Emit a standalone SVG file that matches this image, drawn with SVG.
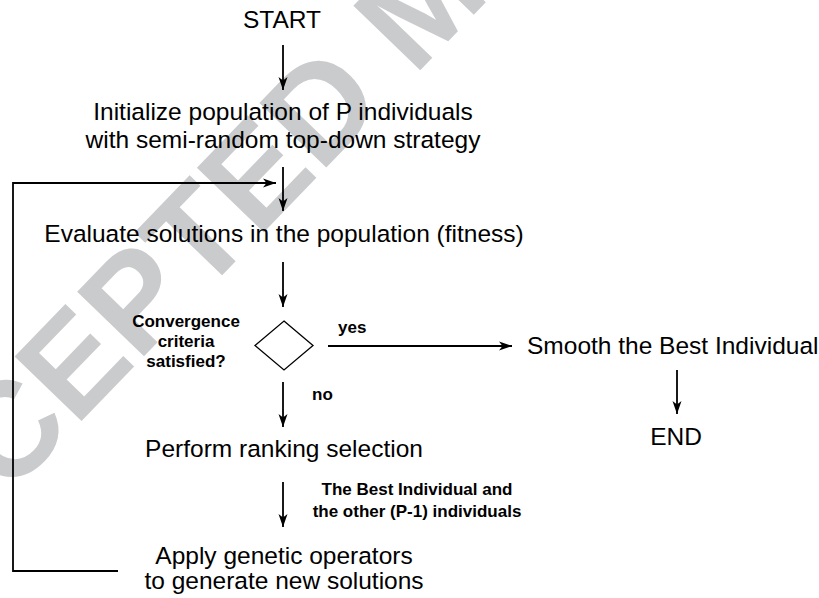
<svg xmlns="http://www.w3.org/2000/svg" width="819" height="598" viewBox="0 0 819 598">
<defs>
<marker id="ah" viewBox="0 0 13 10" refX="13" refY="5" markerWidth="13" markerHeight="10" markerUnits="userSpaceOnUse" orient="auto">
<path d="M0,0.5 L13,5 L0,9.5 L3.5,5 Z" fill="#000"/>
</marker>
<style>
.t{font-family:"Liberation Sans",Arial,sans-serif;font-size:24.5px;fill:#000;text-anchor:middle}
.b{font-family:"Liberation Sans",Arial,sans-serif;font-size:17px;font-weight:bold;fill:#000;text-anchor:middle}
.c{fill:none;stroke:#000;stroke-width:1.8}
.a{marker-end:url(#ah)}
.wm{font-family:"Liberation Sans",Arial,sans-serif;font-size:135px;font-weight:bold;fill:#cacbcd}
</style>
</defs>
<rect width="819" height="598" fill="#fff"/>
<text class="wm" transform="translate(-128,638) rotate(-46)">ACCEPTED MANUSCRIPT</text>
<g id="connectors">
<line class="c a" x1="283" y1="45" x2="283" y2="90"/>
<line class="c a" x1="283" y1="167" x2="283" y2="211"/>
<polyline class="c a" points="118,571 13,571 13,183 276,183"/>
<line class="c a" x1="283" y1="262" x2="283" y2="307"/>
<line class="c a" x1="328" y1="346" x2="512" y2="346"/>
<line class="c a" x1="283" y1="382" x2="283" y2="427"/>
<line class="c a" x1="677" y1="370" x2="677" y2="414"/>
<line class="c a" x1="283" y1="482" x2="283" y2="527"/>
</g>
<g id="n-start"><text class="t" x="282" y="27.5">START</text></g>
<g id="n-init"><text class="t" x="283" y="120">Initialize population of P individuals</text><text class="t" x="283" y="148">with semi-random top-down strategy</text></g>
<g id="n-eval"><text class="t" x="284" y="242">Evaluate solutions in the population (fitness)</text></g>
<g id="n-decision"><polygon points="284,321 313,345.5 284,370 255,345.5" fill="#fff" stroke="#000" stroke-width="1.3"/>
<text class="b" x="186" y="327">Convergence</text><text class="b" x="186" y="347">criteria</text><text class="b" x="186" y="367">satisfied?</text></g>
<g id="l-yes"><text class="b" x="338" y="333" style="text-anchor:start">yes</text></g>
<g id="l-no"><text class="b" x="312" y="400" style="text-anchor:start">no</text></g>
<g id="n-smooth"><text class="t" x="527" y="353.5" style="text-anchor:start">Smooth the Best Individual</text></g>
<g id="n-end"><text class="t" x="676" y="445">END</text></g>
<g id="n-rank"><text class="t" x="284" y="457">Perform ranking selection</text></g>
<g id="l-best"><text class="b" x="417" y="495">The Best Individual and</text><text class="b" x="417" y="517">the other (P-1) individuals</text></g>
<g id="n-apply"><text class="t" x="284" y="563.5">Apply genetic operators</text><text class="t" x="284" y="588.5">to generate new solutions</text></g>
</svg>
